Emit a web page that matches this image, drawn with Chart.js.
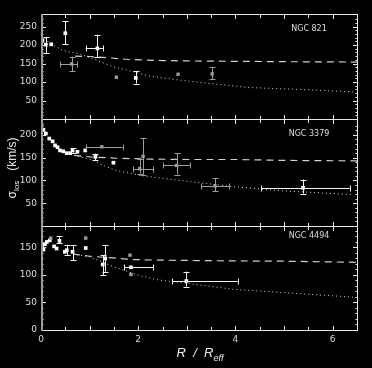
<!DOCTYPE html>
<html>
<head>
<meta charset="utf-8">
<script src="https://cdn.jsdelivr.net/npm/chart.js@4.4.1/dist/chart.umd.min.js"></script>
<style>
  body { margin: 0; background: #000; width: 372px; height: 368px; overflow: hidden; position: relative; font-family: 'DejaVu Sans', sans-serif; }
  .panel { position: absolute; left: 0; }
  .name { position: absolute; color: #ddd; font-size: 8px; width: 60px; text-align: center; }
  #ytitle { position: absolute; left: -43px; top: 161px; width: 110px; height: 14px; line-height: 14px; text-align: center;
            color: #eee; font: 12px 'Liberation Sans', sans-serif; transform: rotate(-90deg); white-space: nowrap; }
  #ytitle sub { font-size: 8px; }
  #xtitle { position: absolute; left: 140px; top: 345px; width: 120px; text-align: center; color: #eee;
            font: italic 13px 'Liberation Sans', sans-serif; white-space: pre; }
  #xtitle sub { font-size: 9px; }
</style>
</head>
<body>
<div class="panel" style="top:12px"><canvas id="c821" width="372" height="109"></canvas></div>
<div class="panel" style="top:117px"><canvas id="c3379" width="372" height="111"></canvas></div>
<div class="panel" style="top:224px"><canvas id="c4494" width="372" height="124"></canvas></div>
<div class="name" style="left:279px;top:24px">NGC 821</div>
<div class="name" style="left:279px;top:129px">NGC 3379</div>
<div class="name" style="left:279px;top:231px">NGC 4494</div>
<div id="ytitle">σ<sub>los</sub>&nbsp;&nbsp;&nbsp;(km/s)</div>
<div id="xtitle">R  /  R<sub>eff</sub></div>
<script>
// rows: [R/Reff, sigma, sigmaLo, sigmaHi, RLo, RHi]
const n821Bright = [
  [0.03, 212, null, null, null, null],
  [0.10, 201, 178, 222, null, null],
  [0.21, 202, null, null, null, null],
  [0.50, 232, 202, 264, null, null],
  [1.16, 191, 167, 228, 0.92, 1.28],
  [1.95, 111, 96, 130, null, null]
];
const n821Faint = [
  [0.63, 149, 129, 169, 0.39, 0.75],
  [1.55, 113, null, null, null, null],
  [2.82, 121, null, null, null, null],
  [3.52, 122, 107, 140, null, null]
];
const n821DashR = [0.7, 1.0, 1.35, 1.8, 2.5, 3, 4, 5, 6.5];
const n821DashSigma = [170, 169, 166, 161, 158, 157, 156, 155, 154];
const n821DotR = [0.02, 0.2, 0.46, 0.8, 1.14, 1.49, 1.83, 2.24, 2.86, 3.47, 4.29, 5.32, 6.47];
const n821DotSigma = [226, 202, 185, 176, 159, 141, 130, 116, 105, 96, 85, 80, 73];

const n3379Bright = [
  [0.01, 222, null, null, null, null],
  [0.05, 211, null, null, null, null],
  [0.10, 203, null, null, null, null],
  [0.17, 192, null, null, null, null],
  [0.24, 186, null, null, null, null],
  [0.29, 177, null, null, null, null],
  [0.34, 173, null, null, null, null],
  [0.39, 166, null, null, null, null],
  [0.46, 164, null, null, null, null],
  [0.53, 160, null, null, null, null],
  [0.60, 160, null, null, null, null],
  [0.65, 166, 161, 171, null, null],
  [0.75, 163, null, null, null, null],
  [0.91, 166, null, null, null, null],
  [1.12, 152, 144, 159, null, null],
  [1.49, 139, null, null, null, null],
  [5.39, 84, 71, 102, 4.53, 6.35]
];
const n3379Faint = [
  [1.25, 174, null, null, 0.92, 1.68],
  [2.10, 153, 113, 193, null, null],
  [2.03, 126, 115, 148, 1.90, 2.31],
  [2.79, 133, 113, 160, 2.51, 3.06],
  [3.58, 88, 76, 105, 3.30, 3.87]
];
const n3379DashR = [0.69, 1.0, 1.5, 2.24, 3, 4.08, 5, 6.5];
const n3379DashSigma = [155, 152, 149, 147, 146, 146, 144, 143];
const n3379DotR = [0.6, 1.06, 1.27, 1.51, 2.03, 2.94, 4.0, 5.0, 6.4];
const n3379DotSigma = [157, 145, 134, 123, 111, 99, 86, 77, 69];

const n4494Bright = [
  [0.02, 150, null, null, null, null],
  [0.05, 146, null, null, null, null],
  [0.08, 156, null, null, null, null],
  [0.12, 160, null, null, null, null],
  [0.18, 163, null, null, null, null],
  [0.27, 152, null, null, null, null],
  [0.32, 148, null, null, null, null],
  [0.38, 162, 158, 170, null, null],
  [0.49, 142, null, null, null, null],
  [0.53, 145, 136, 155, null, null],
  [0.65, 142, 127, 155, null, null],
  [0.92, 149, null, null, null, null],
  [1.27, 119, 100, 136, null, null],
  [1.32, 130, 106, 155, null, null],
  [1.85, 114, null, null, 1.71, 2.31],
  [2.99, 89, 79, 106, 2.70, 4.05]
];
const n4494Faint = [
  [0.20, 167, null, null, null, null],
  [0.92, 167, null, null, null, null],
  [1.83, 136, null, null, null, null],
  [1.85, 101, null, null, null, null]
];
const n4494DashR = [0.66, 1.0, 1.49, 1.9, 2.41, 2.86, 4.0, 5.0, 6.5];
const n4494DashSigma = [138, 134, 131, 128, 127, 126.5, 125.5, 125, 123];
const n4494DotR = [0.66, 1.0, 1.49, 2.03, 2.41, 2.72, 3.95, 4.98, 6.45];
const n4494DotSigma = [138, 133, 115, 99, 91, 88, 74, 68, 59.5];

const rLabels = [0, 2, 4, 6];

const zip = (xs, ys) => xs.map((x, i) => ({ x: x, y: ys[i] }));
const pts = rows => rows.map(r => ({ x: r[0], y: r[1] }));

// error bars drawn through the chart's scales
const errorBars = {
  id: 'errorBars',
  afterDatasetsDraw(chart) {
    const { ctx, chartArea: a, scales: { x, y } } = chart;
    ctx.save();
    ctx.beginPath();
    ctx.rect(a.left, a.top, a.right - a.left, a.bottom - a.top);
    ctx.clip();
    ctx.lineWidth = 1;
    chart.data.datasets.forEach(ds => {
      if (!ds.rows) return;
      ctx.strokeStyle = ds.borderColor;
      ds.rows.forEach(r => {
        const px = Math.round(x.getPixelForValue(r[0])) + 0.5;
        const py = Math.round(y.getPixelForValue(r[1])) + 0.5;
        ctx.beginPath();
        if (r[2] !== null) {
          const lo = y.getPixelForValue(r[2]), hi = y.getPixelForValue(r[3]);
          ctx.moveTo(px, lo); ctx.lineTo(px, hi);
          ctx.moveTo(px - 3, Math.round(lo) + 0.5); ctx.lineTo(px + 3, Math.round(lo) + 0.5);
          ctx.moveTo(px - 3, Math.round(hi) + 0.5); ctx.lineTo(px + 3, Math.round(hi) + 0.5);
        }
        if (r[4] !== null) {
          const l = x.getPixelForValue(r[4]), h = x.getPixelForValue(r[5]);
          ctx.moveTo(l, py); ctx.lineTo(h, py);
          ctx.moveTo(Math.round(l) + 0.5, py - 3); ctx.lineTo(Math.round(l) + 0.5, py + 3);
          ctx.moveTo(Math.round(h) + 0.5, py - 3); ctx.lineTo(Math.round(h) + 0.5, py + 3);
        }
        ctx.stroke();
      });
    });
    ctx.restore();
  }
};

// frame with inward ticks on all four sides
const frameTicks = {
  id: 'frameTicks',
  afterDraw(chart) {
    const { ctx, chartArea: a, scales: { x, y } } = chart;
    const L = Math.round(a.left), R = Math.round(a.right), T = Math.round(a.top), B = Math.round(a.bottom);
    ctx.save();
    ctx.strokeStyle = '#e8e8e8';
    ctx.lineWidth = 1;
    ctx.beginPath();
    ctx.moveTo(L, T + 0.5); ctx.lineTo(R, T + 0.5);
    ctx.moveTo(L, B + 0.5); ctx.lineTo(R, B + 0.5);
    ctx.moveTo(R + 0.5, T); ctx.lineTo(R + 0.5, B + 1);
    x.ticks.forEach(t => {
      const px = Math.round(x.getPixelForValue(t.value)) + 0.5;
      const len = Number.isInteger(t.value) ? 5 : 4;
      ctx.moveTo(px, T); ctx.lineTo(px, T + len);
      ctx.moveTo(px, B + 1); ctx.lineTo(px, B + 1 - len);
    });
    y.ticks.forEach(t => {
      const py = Math.round(y.getPixelForValue(t.value)) + 0.5;
      const len = t.value % 50 === 0 ? 5 : 2.5;
      ctx.moveTo(L, py); ctx.lineTo(L + len, py);
      ctx.moveTo(R + 1, py); ctx.lineTo(R + 1 - len, py);
    });
    ctx.stroke();
    ctx.strokeStyle = '#9a9a9a';
    ctx.lineWidth = 2;
    ctx.beginPath();
    ctx.moveTo(L + 1, T); ctx.lineTo(L + 1, B + 1);
    ctx.stroke();
    ctx.restore();
  }
};

function makePanel(id, bright, faint, dashR, dashS, dotR, dotS, yMax, showZero, bottom) {
  return new Chart(document.getElementById(id), {
    type: 'scatter',
    data: {
      datasets: [
        { data: zip(dotR, dotS), showLine: true, borderColor: '#d8d8d8', borderWidth: 1, borderDash: [1, 3], pointRadius: 0 },
        { data: zip(dashR, dashS), showLine: true, borderColor: '#cfcfcf', borderWidth: 1.2, borderDash: [7, 5], pointRadius: 0 },
        { data: pts(faint), rows: faint, borderColor: '#9c9c9c', backgroundColor: '#9c9c9c', pointStyle: 'rect', pointRadius: 2.4, borderWidth: 0 },
        { data: pts(bright), rows: bright, borderColor: '#f4f4f4', backgroundColor: '#ffffff', pointStyle: 'rect', pointRadius: 2.6, borderWidth: 0 }
      ]
    },
    options: {
      responsive: false,
      animation: false,
      layout: { autoPadding: false, padding: { left: 0, right: 15, top: 2, bottom: bottom ? 0 : 2 } },
      plugins: { legend: { display: false }, tooltip: { enabled: false } },
      scales: {
        x: {
          type: 'linear', min: 0, max: 6.5,
          grid: { display: false, drawTicks: false }, border: { display: false },
          ticks: {
            display: bottom, stepSize: 0.5, autoSkip: false, padding: 4, color: '#dddddd',
            font: { family: 'DejaVu Sans', size: 9 },
            callback: v => rLabels.includes(v) ? String(v) : ''
          },
          afterFit: s => { s.height = bottom ? 18 : 0; s.paddingLeft = 0; s.paddingRight = 0; }
        },
        y: {
          type: 'linear', min: 0, max: yMax,
          grid: { display: false, drawTicks: false }, border: { display: false },
          afterBuildTicks: s => { s.ticks = s.ticks.filter(t => t.value % 10 === 0); },
          ticks: {
            stepSize: 10, autoSkip: false, padding: 4, color: '#dddddd',
            font: { family: 'DejaVu Sans', size: 9, lineHeight: 0.3 },
            callback: v => (v % 50 === 0 && (v > 0 || showZero)) ? String(v) : ''
          },
          afterFit: s => { s.width = 41; s.paddingTop = 0; s.paddingBottom = 0; }
        }
      }
    },
    plugins: [errorBars, frameTicks]
  });
}

makePanel('c821', n821Bright, n821Faint, n821DashR, n821DashSigma, n821DotR, n821DotSigma, 284, false, false);
makePanel('c3379', n3379Bright, n3379Faint, n3379DashR, n3379DashSigma, n3379DotR, n3379DotSigma, 235, false, false);
makePanel('c4494', n4494Bright, n4494Faint, n4494DashR, n4494DashSigma, n4494DotR, n4494DotSigma, 189, true, true);
</script>
</body>
</html>
